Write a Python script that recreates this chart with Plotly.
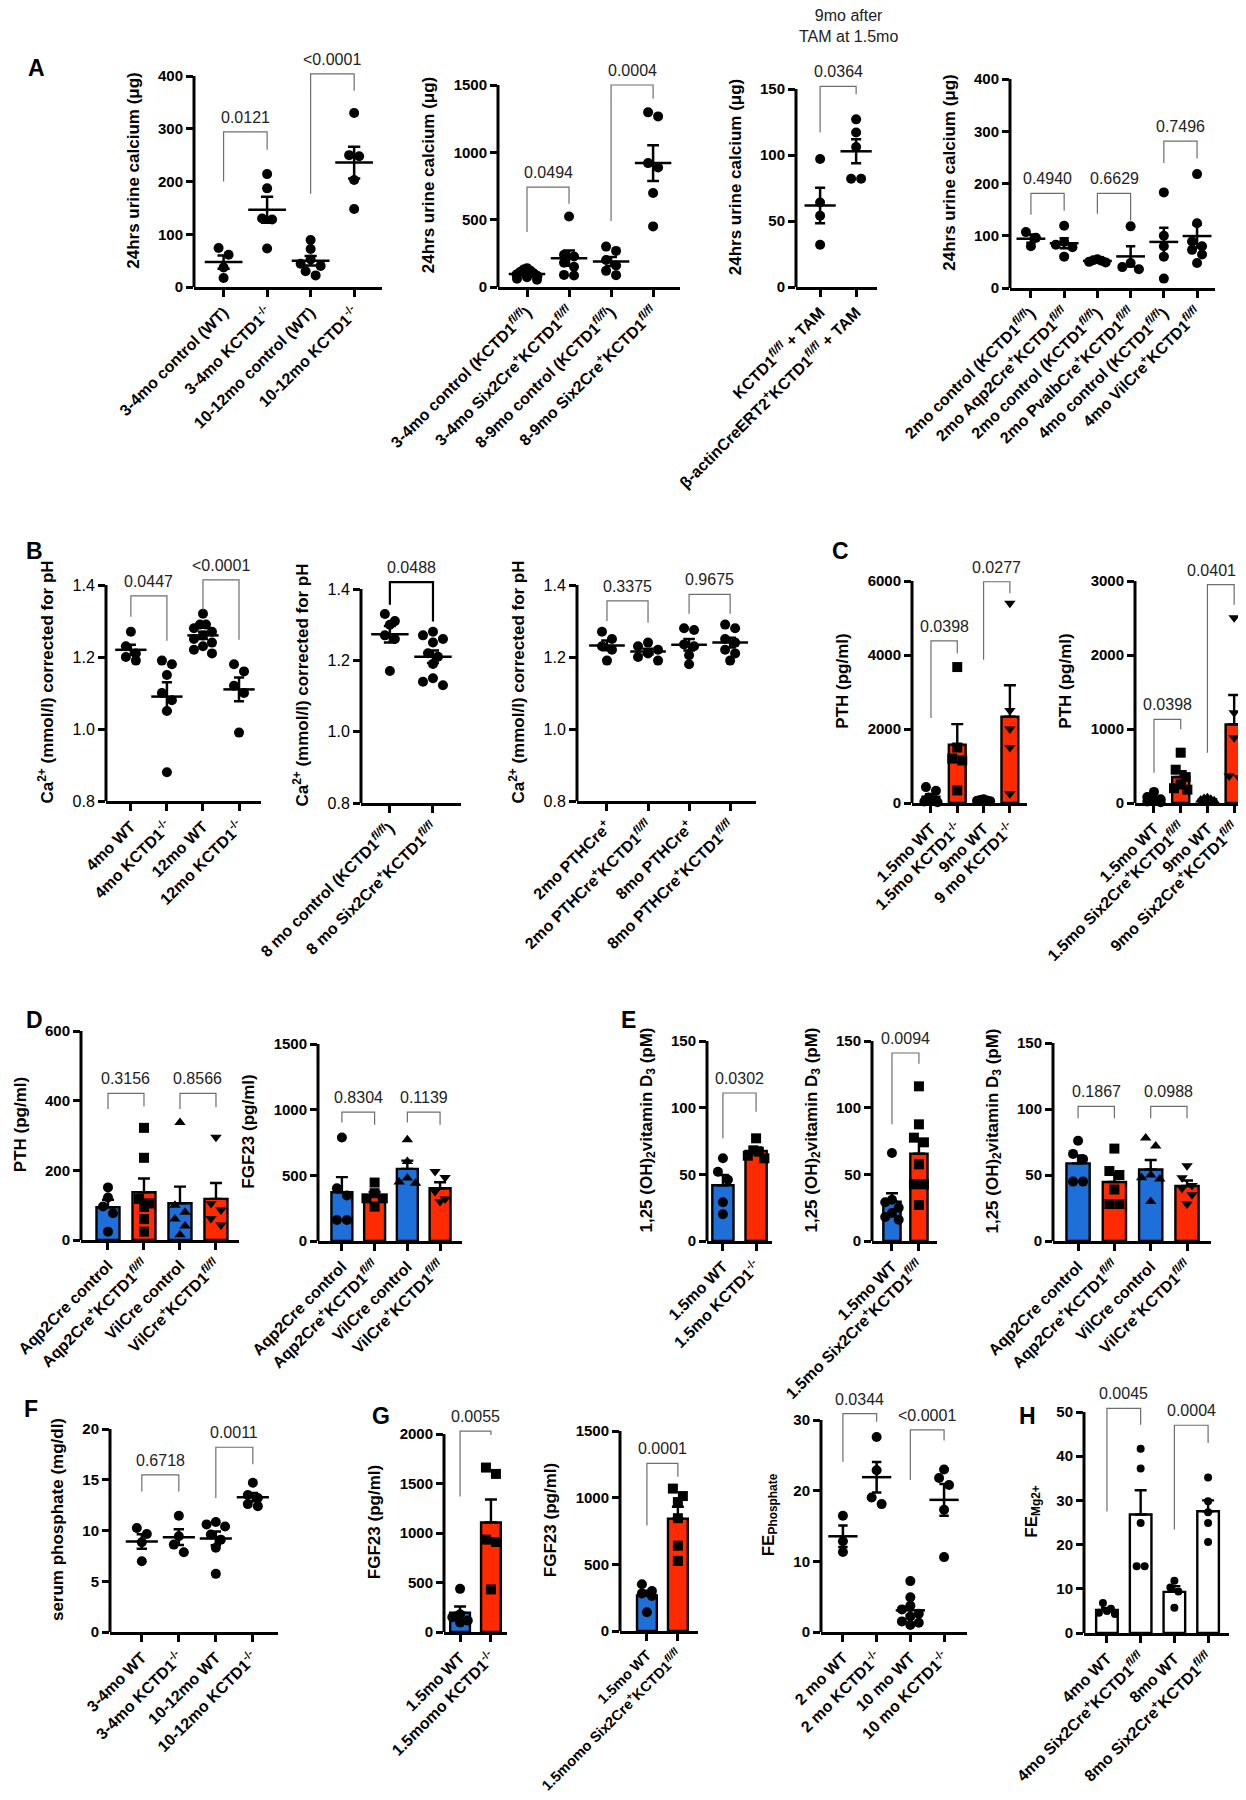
import numpy as np
import plotly.graph_objects as go

W, H = 1246, 1800
FONT = "Liberation Sans, Arial, Helvetica, sans-serif"
BLUE = "#1f6fd8"
RED = "#ff2a00"
GREY = "#6e6e6e"

KO = "KCTD1<sup>-/-</sup>"
FL = "KCTD1<sup><i>fl/fl</i></sup>"

UC = "24hrs urine calcium (μg)"
CA = "Ca<sup>2+</sup> (mmol/l) corrected for pH"
PTH = "PTH (pg/ml)"
FGF = "FGF23 (pg/ml)"
VITD = "1,25 (OH)<sub>2</sub>vitamin D<sub>3</sub> (pM)"

# ---------------- data ----------------
# A: 24 h urine calcium
a1_labels = ["3-4mo control (WT)", "3-4mo " + KO, "10-12mo control (WT)", "10-12mo " + KO]
a1_values = [[74, 61, 37, 17], [214, 187, 130, 128, 73],
             [89, 72, 52, 44, 40, 30, 22], [330, 250, 248, 203, 148]]
a1_pvals = [(0, 1, 200, 260, 294, "0.0121"), (2, 3, 177, 372, 404, "<0.0001")]

a2_labels = ["3-4mo control (" + FL + ")", "3-4mo Six2Cre<sup>+</sup>" + FL,
             "8-9mo control (" + FL + ")", "8-9mo Six2Cre<sup>+</sup>" + FL]
a2_values = [[140, 130, 120, 112, 100, 92, 82, 72, 62, 54], [524, 240, 226, 180, 150, 90, 86],
             [300, 268, 200, 160, 120, 88], [1297, 1267, 920, 888, 698, 450]]
a2_pvals = [(0, 1, 408, 618, 742, "0.0494"), (2, 3, 490, 1398, 1500, "0.0004")]

a3_labels = [FL + " + TAM", "β-actinCreERT2<sup>+</sup>" + FL + " + TAM"]
a3_values = [[97, 64, 54, 32], [127, 117, 106, 82, 82]]
a3_pvals = [(0, 1, 117, 146, 152, "0.0364")]

a4_labels = ["2mo control (" + FL + ")", "2mo Aqp2Cre<sup>+</sup>" + FL,
             "2mo control (" + FL + ")", "2mo PvalbCre<sup>+</sup>" + FL,
             "4mo control (" + FL + ")", "4mo VilCre<sup>+</sup>" + FL]
a4_values = [[107, 96, 80], [119, 88, 83, 78, 60], [55, 53, 52, 50, 49], [118, 48, 40, 36],
             [183, 100, 80, 60, 18], [218, 124, 89, 80, 73, 64, 48]]
a4_pvals = [(0, 1, 140, 148, 181, "0.4940"), (2, 3, 142, 129, 181, "0.6629"),
            (4, 5, 239, 248, 281, "0.7496")]

# B: ionised calcium
b1_labels = ["4mo WT", "4mo " + KO, "12mo WT", "12mo " + KO]
b1_values = [[1.27, 1.23, 1.21, 1.20, 1.19], [1.19, 1.18, 1.15, 1.10, 1.08, 1.05, 0.88],
             [1.32, 1.29, 1.29, 1.28, 1.27, 1.26, 1.25, 1.24, 1.23, 1.22, 1.21],
             [1.18, 1.16, 1.12, 1.10, 0.99]]
b1_pvals = [(0, 1, 1.312, 1.245, 1.37, "0.0447"), (2, 3, 1.331, 1.248, 1.414, "<0.0001")]

b2_labels = ["8 mo control (" + FL + ")", "8 mo Six2Cre<sup>+</sup>" + FL]
b2_values = [[1.33, 1.31, 1.30, 1.27, 1.26, 1.17],
             [1.28, 1.27, 1.26, 1.25, 1.22, 1.21, 1.19, 1.15, 1.14, 1.13]]
b2_pvals = [(0, 1, 1.356, 1.309, 1.419, "0.0488")]

b3_labels = ["2mo PTHCre<sup>+</sup>", "2mo PTHCre<sup>+</sup>" + FL,
             "8mo PTHCre<sup>+</sup>", "8mo PTHCre<sup>+</sup>" + FL]
b3_values = [[1.27, 1.25, 1.23, 1.22, 1.19], [1.24, 1.23, 1.22, 1.21, 1.20, 1.19],
             [1.28, 1.275, 1.235, 1.23, 1.205, 1.18], [1.29, 1.28, 1.25, 1.24, 1.22, 1.21, 1.19]]
b3_pvals = [(0, 1, 1.30, 1.295, 1.356, "0.3375"), (2, 3, 1.32, 1.32, 1.374, "0.9675")]

# C: PTH
c1_labels = ["1.5mo WT", "1.5mo " + KO, "9mo WT", "9 mo " + KO]
c1_values = [[430, 330, 150, 60, 40, 20], [3674, 1500, 1200, 1150, 340],
             [100, 80, 70, 60, 50], [5400, 2500, 2000, 1500, 250]]
c1_pvals = [(0, 1, 2300, 4050, 4380, "0.0398"), (2, 3, 3870, 5670, 5980, "0.0277")]

c2_labels = ["1.5mo WT", "1.5mo Six2Cre<sup>+</sup>" + FL, "9mo WT", "9mo Six2Cre<sup>+</sup>" + FL]
c2_values = [[150, 80, 50, 30, 20, 10], [680, 450, 350, 250, 200, 180],
             [70, 60, 50, 40, 30], [2505, 1220, 883, 365, 342]]
c2_pvals = [(0, 1, 410, 995, 1130, "0.0398"), (2, 3, 680, 2680, 2950, "0.0401")]

# D: PTH and FGF23 in Aqp2Cre / VilCre
d_labels = ["Aqp2Cre control", "Aqp2Cre<sup>+</sup>" + FL, "VilCre control", "VilCre<sup>+</sup>" + FL]
d1_values = [[151, 122, 96, 77, 24], [322, 236, 118, 105, 95, 60, 24],
             [337, 100, 80, 60, 40, 15], [295, 105, 86, 62, 43]]
d1_pvals = [(0, 1, 376, 383, 421, "0.3156"), (2, 3, 376, 381, 421, "0.8566")]
d2_values = [[788, 402, 346, 160, 160], [445, 364, 325, 325, 262],
             [770, 605, 480, 450, 440], [530, 483, 376, 320, 300]]
d2_pvals = [(0, 1, 903, 885, 981, "0.8304"), (2, 3, 903, 885, 981, "0.1139")]

# E: 1,25(OH)2 vitamin D3
e1_labels = ["1.5mo WT", "1.5mo " + KO]
e1_values = [[62, 52, 46, 29, 20], [77, 68, 67, 64, 62]]
e1_pvals = [(0, 1, 77, 97, 111, "0.0302")]
e2_labels = ["1.5mo WT", "1.5mo Six2Cre<sup>+</sup>" + FL]
e2_values = [[66, 31, 29, 25, 21, 18, 16], [116, 87.5, 77.5, 74, 57.5, 42.5, 42.5, 27]]
e2_pvals = [(0, 1, 87.5, 133, 141, "0.0094")]
e3_values = [[76, 66, 62, 45, 45], [70, 53, 50, 39, 28, 28],
             [78, 72, 50, 48, 47, 30], [57, 48, 42, 40, 35, 28]]
e3_pvals = [(0, 1, 93, 93, 102, "0.1867"), (2, 3, 93, 93, 102, "0.0988")]

# F: serum phosphate
f_labels = ["3-4mo WT", "3-4mo " + KO, "10-12mo WT", "10-12mo " + KO]
f_values = [[10.25, 9.65, 8.84, 6.97], [11.46, 9.43, 8.61, 7.86],
            [10.83, 10.6, 10.4, 9.6, 9.1, 8.3, 5.73], [14.7, 13.5, 13.2, 12.6, 12.4]]
f_pvals = [(0, 1, 13.85, 13.85, 15.48, "0.6718"), (2, 3, 13.19, 16.53, 18.2, "0.0011")]

# G: FGF23 and FE phosphate
g1_labels = ["1.5mo WT", "1.5momo " + KO]
g1_values = [[436, 180, 150, 115, 95], [1661, 1597, 933, 909, 430]]
g1_pvals = [(0, 1, 1369, 1990, 2030, "0.0055")]
g2_labels = ["1.5mo WT", "1.5momo Six2Cre<sup>+</sup>" + FL]
g2_values = [[350, 300, 282, 262, 141], [1068, 1012, 967, 846, 640, 526]]
g2_pvals = [(0, 1, 791, 1156, 1257, "0.0001")]
g3_labels = ["2 mo WT", "2 mo " + KO, "10 mo WT", "10 mo " + KO]
g3_values = [[16.46, 12.84, 11.33], [27.6, 22.9, 19.04, 18.1],
             [7.2, 4.9, 3.7, 3.2, 2.6, 2.2, 1.5, 1.3, 1.0], [23.0, 21.8, 20.8, 17.3, 10.6]]
g3_pvals = [(0, 1, 24.1, 29.76, 30.9, "0.0344"), (2, 3, 21.5, 27.1, 28.6, "<0.0001")]

# H: FE Mg
h_labels = ["4mo WT", "4mo Six2Cre<sup>+</sup>" + FL, "8mo WT", "8mo Six2Cre<sup>+</sup>" + FL]
h_values = [[6.8, 5.5, 5.0, 4.6, 4.3], [41.7, 37.2, 24.9, 15.1, 15.1],
            [11.8, 10.3, 9.4, 5.7], [35.2, 29.8, 27.3, 24.9, 20.6]]
h_pvals = [(0, 1, 27.5, 47.1, 50.8, "0.0045"), (2, 3, 23.4, 43, 47, "0.0004")]

# ---------------- panel layout (pixel boxes: left, right, bottom, top tick) ----------------
BR = [BLUE, RED, BLUE, RED]
SYM4 = ["circle", "square", "triangle-up", "triangle-down"]
panels = [
    dict(box=(186, 374, 279, 68), yr=(0, 400), dt=100, xr=(-0.68, 3.64), labels=a1_labels,
         values=a1_values, pvals=a1_pvals, kind="dot", ytitle=UC),
    dict(box=(490, 672, 279, 77), yr=(0, 1500), dt=500, xr=(-0.69, 3.64), labels=a2_labels,
         values=a2_values, pvals=a2_pvals, kind="dot", ytitle=UC),
    dict(box=(788, 869, 279, 81), yr=(0, 150), dt=50, xr=(-0.67, 1.58), labels=a3_labels,
         values=a3_values, pvals=a3_pvals, kind="dot", ytitle=UC),
    dict(box=(1002, 1207, 280, 71), yr=(0, 400), dt=100, xr=(-0.63, 5.54), labels=a4_labels,
         values=a4_values, pvals=a4_pvals, kind="dot", ytitle=UC),
    dict(box=(98, 253, 793, 577), yr=(0.8, 1.4), dt=0.2, xr=(-0.69, 3.61), labels=b1_labels,
         values=b1_values, pvals=b1_pvals, kind="dot", ytitle=CA, regular=True),
    dict(box=(353, 453, 795, 581), yr=(0.8, 1.4), dt=0.2, xr=(-0.67, 1.65), labels=b2_labels,
         values=b2_values, pvals=b2_pvals, kind="dot", ytitle=CA, regular=True, boldbracket=True),
    dict(box=(569, 748, 793, 577), yr=(0.8, 1.4), dt=0.2, xr=(-0.73, 3.63), labels=b3_labels,
         values=b3_values, pvals=b3_pvals, kind="dot", ytitle=CA, regular=True),
    dict(box=(904, 1019, 795, 573), yr=(0, 6000), dt=2000, xr=(-0.72, 3.65), labels=c1_labels,
         values=c1_values, pvals=c1_pvals, kind="bar", ytitle=PTH, colors=BR,
         symbols=["circle", "square", "circle", "triangle-down"]),
    dict(box=(1127, 1243, 795, 573), yr=(0, 3000), dt=1000, xr=(-0.71, 3.63), labels=c2_labels,
         values=c2_values, pvals=c2_pvals, kind="bar", ytitle=PTH, colors=BR, symbols=SYM4,
         pshift=-9),
    dict(box=(73, 231, 1232, 1023), yr=(0, 600), dt=200, xr=(-0.75, 3.64), labels=d_labels,
         values=d1_values, pvals=d1_pvals, kind="bar", ytitle=PTH, colors=BR, symbols=SYM4),
    dict(box=(310, 454, 1233, 1036), yr=(0, 1500), dt=500, xr=(-0.73, 3.67), labels=d_labels,
         values=d2_values, pvals=d2_pvals, kind="bar", ytitle=FGF, colors=BR, symbols=SYM4),
    dict(box=(699, 764, 1233, 1033), yr=(0, 150), dt=50, xr=(-0.48, 1.48), labels=e1_labels,
         values=e1_values, pvals=e1_pvals, kind="bar", ytitle=VITD, colors=BR, symbols=SYM4),
    dict(box=(864, 929, 1233, 1033), yr=(0, 150), dt=50, xr=(-0.74, 1.67), labels=e2_labels,
         values=e2_values, pvals=e2_pvals, kind="bar", ytitle=VITD, colors=BR, symbols=SYM4),
    dict(box=(1045, 1203, 1233, 1035), yr=(0, 150), dt=50, xr=(-0.69, 3.66), labels=d_labels,
         values=e3_values, pvals=e3_pvals, kind="bar", ytitle=VITD, colors=BR, symbols=SYM4),
    dict(box=(102, 270, 1624, 1421), yr=(0, 20), dt=5, xr=(-0.86, 3.68), labels=f_labels,
         values=f_values, pvals=f_pvals, kind="dot", ytitle="serum phosphate (mg/dl)"),
    dict(box=(436, 499, 1624, 1426), yr=(0, 2000), dt=500, xr=(-0.52, 1.52), labels=g1_labels,
         values=g1_values, pvals=g1_pvals, kind="bar", ytitle=FGF, colors=BR, symbols=SYM4),
    dict(box=(612, 690, 1623, 1423), yr=(0, 1500), dt=500, xr=(-0.87, 1.65), labels=g2_labels,
         values=g2_values, pvals=g2_pvals, kind="bar", ytitle=FGF, colors=BR, symbols=SYM4,
         xfs=14.5),
    dict(box=(813, 959, 1624, 1412), yr=(0, 30), dt=10, xr=(-0.65, 3.68), labels=g3_labels,
         values=g3_values, pvals=g3_pvals, kind="dot", ytitle="FE<sub>Phosphate</sub>"),
    dict(box=(1076, 1221, 1625, 1404), yr=(0, 50), dt=10, xr=(-0.68, 3.62), labels=h_labels,
         values=h_values, pvals=h_pvals, kind="bar", ytitle="FE<sub>Mg2+</sub>",
         colors=["white"] * 4, symbols=["circle"] * 4, msize=8),
]

letters = [("A", 18, 60), ("B", 16, 543), ("C", 822, 543), ("D", 16, 1012), ("E", 611, 1012),
           ("F", 14, 1401), ("G", 362, 1408), ("H", 1009, 1408)]

EXT = 22  # extra px above the top tick so brackets stay inside the plot area


def swarm(py, d, maxw):
    """horizontal pixel offsets: rows of points at similar height spread symmetrically"""
    order = np.argsort(-py)
    off = np.zeros(len(py))
    rows, cur = [], []
    for k in order:
        if cur and py[cur[0]] - py[k] > 0.8 * d:
            rows.append(cur)
            cur = []
        cur.append(k)
    rows.append(cur)
    for row in rows:
        n = len(row)
        if n == 1:
            continue
        step = min(d, maxw / (n - 1))
        slots = np.arange(n) - (n - 1) / 2
        slots = slots[np.argsort(np.abs(slots), kind="stable")]
        for k, s in zip(row, slots):
            off[k] = s * step
    return off


fig = go.Figure()
layout = {}
shapes, annotations = [], []

for n, p in enumerate(panels, start=1):
    ax = "" if n == 1 else str(n)
    xn, yn = "x" + ax, "y" + ax
    L, R, yb, yt = p["box"]
    lo, top = p["yr"]
    ppu = (yb - yt) / (top - lo)
    hi = top + EXT / ppu
    xlo, xhi = p["xr"]
    ppx = (R - L) / (xhi - xlo)
    ncat = len(p["labels"])
    ytick_font = dict(family=FONT, size=16, color="black") if p.get("regular") else \
        dict(family=FONT, size=15, color="black", weight="bold")

    layout["xaxis" + ax] = dict(
        domain=[L / W, R / W], range=[xlo, xhi], anchor=yn, automargin=False,
        tickmode="array", tickvals=list(range(ncat)), ticktext=p["labels"], tickangle=-45,
        ticks="outside", ticklen=7, tickwidth=2.5, tickcolor="black",
        showline=True, linewidth=3, linecolor="black", showgrid=False, zeroline=False,
        tickfont=dict(family=FONT, size=p.get("xfs", 16), color="black", weight="bold"),
        fixedrange=True)
    tv = list(np.round(np.arange(lo, top + p["dt"] / 2, p["dt"]), 3))
    layout["yaxis" + ax] = dict(
        domain=[1 - yb / H, 1 - (yt - EXT) / H], range=[lo, hi], anchor=xn, automargin=False,
        tickmode="array", tickvals=tv, tickformat=".1f" if p.get("regular") else "d",
        ticks="outside", ticklen=7, tickwidth=2.5, tickcolor="black",
        showline=False, showgrid=False, zeroline=False, tickfont=ytick_font, fixedrange=True,
        title=dict(text=p["ytitle"], standoff=14,
                   font=dict(family=FONT, size=17, color="black", weight="bold")))
    shapes.append(dict(type="line", xref=xn + " domain", yref=yn, x0=0, x1=0, y0=lo, y1=top,
                       line=dict(color="black", width=3)))

    ms = p.get("msize", 10)
    vals = [np.array(v, float) for v in p["values"]]
    means = [v.mean() for v in vals]
    sems = [v.std(ddof=1) / np.sqrt(len(v)) for v in vals]

    if p["kind"] == "bar":
        fig.add_trace(go.Bar(
            x=list(range(ncat)), y=means, width=0.64, xaxis=xn, yaxis=yn,
            marker=dict(color=p["colors"], line=dict(color="black", width=2.4)),
            error_y=dict(type="data", array=sems, arrayminus=[0] * ncat, symmetric=False,
                         color="black", thickness=2.4, width=6),
            showlegend=False, hoverinfo="skip"))

    for i, v in enumerate(vals):
        sym = p["symbols"][i] if "symbols" in p else "circle"
        off = swarm(v * ppu, ms, 0.5 * ppx) / ppx
        fig.add_trace(go.Scatter(
            x=i + off, y=v, mode="markers", xaxis=xn, yaxis=yn, cliponaxis=False,
            marker=dict(symbol=sym, size=ms, color="black", line=dict(width=0)),
            showlegend=False, hoverinfo="skip"))

    if p["kind"] == "dot":
        fig.add_trace(go.Scatter(
            x=list(range(ncat)), y=means, mode="markers", xaxis=xn, yaxis=yn, cliponaxis=False,
            marker=dict(symbol="line-ew", size=0.62 * ppx, color="black",
                        line=dict(width=2.5, color="black")),
            error_y=dict(type="data", array=sems, color="black", thickness=2.5, width=0.14 * ppx),
            showlegend=False, hoverinfo="skip"))

    bold = p.get("boldbracket", False)
    for k, (i, j, yl, yr_, ytop, txt) in enumerate(p["pvals"]):
        fig.add_trace(go.Scatter(
            x=[i, i, j, j], y=[yl, ytop, ytop, yr_], mode="lines", xaxis=xn, yaxis=yn,
            line=dict(color="black" if bold else GREY, width=2.2 if bold else 1.2),
            showlegend=False, hoverinfo="skip"))
        last = k == len(p["pvals"]) - 1
        annotations.append(dict(
            x=(i + j) / 2, y=ytop, xref=xn, yref=yn, text=txt, showarrow=False,
            yanchor="bottom", yshift=4, xshift=p.get("pshift", 0) if last else 0,
            font=dict(family=FONT, size=16, color="#222")))

for t, x, y in letters:
    annotations.append(dict(x=x / W, y=1 - y / H, xref="paper", yref="paper", text=t,
                            showarrow=False, xanchor="left", yanchor="middle",
                            font=dict(family=FONT, size=23, color="black", weight="bold")))
annotations.append(dict(x=840 / W, y=1 - 18 / H, xref="paper", yref="paper",
                        text="9mo after<br>TAM at 1.5mo", showarrow=False,
                        xanchor="center", yanchor="middle",
                        font=dict(family=FONT, size=16, color="#222")))

fig.update_layout(
    width=W, height=H, margin=dict(l=0, r=0, t=0, b=0), showlegend=False,
    paper_bgcolor="white", plot_bgcolor="rgba(0,0,0,0)", font=dict(family=FONT),
    shapes=shapes, annotations=annotations, **layout)

fig.write_html("out.html")
